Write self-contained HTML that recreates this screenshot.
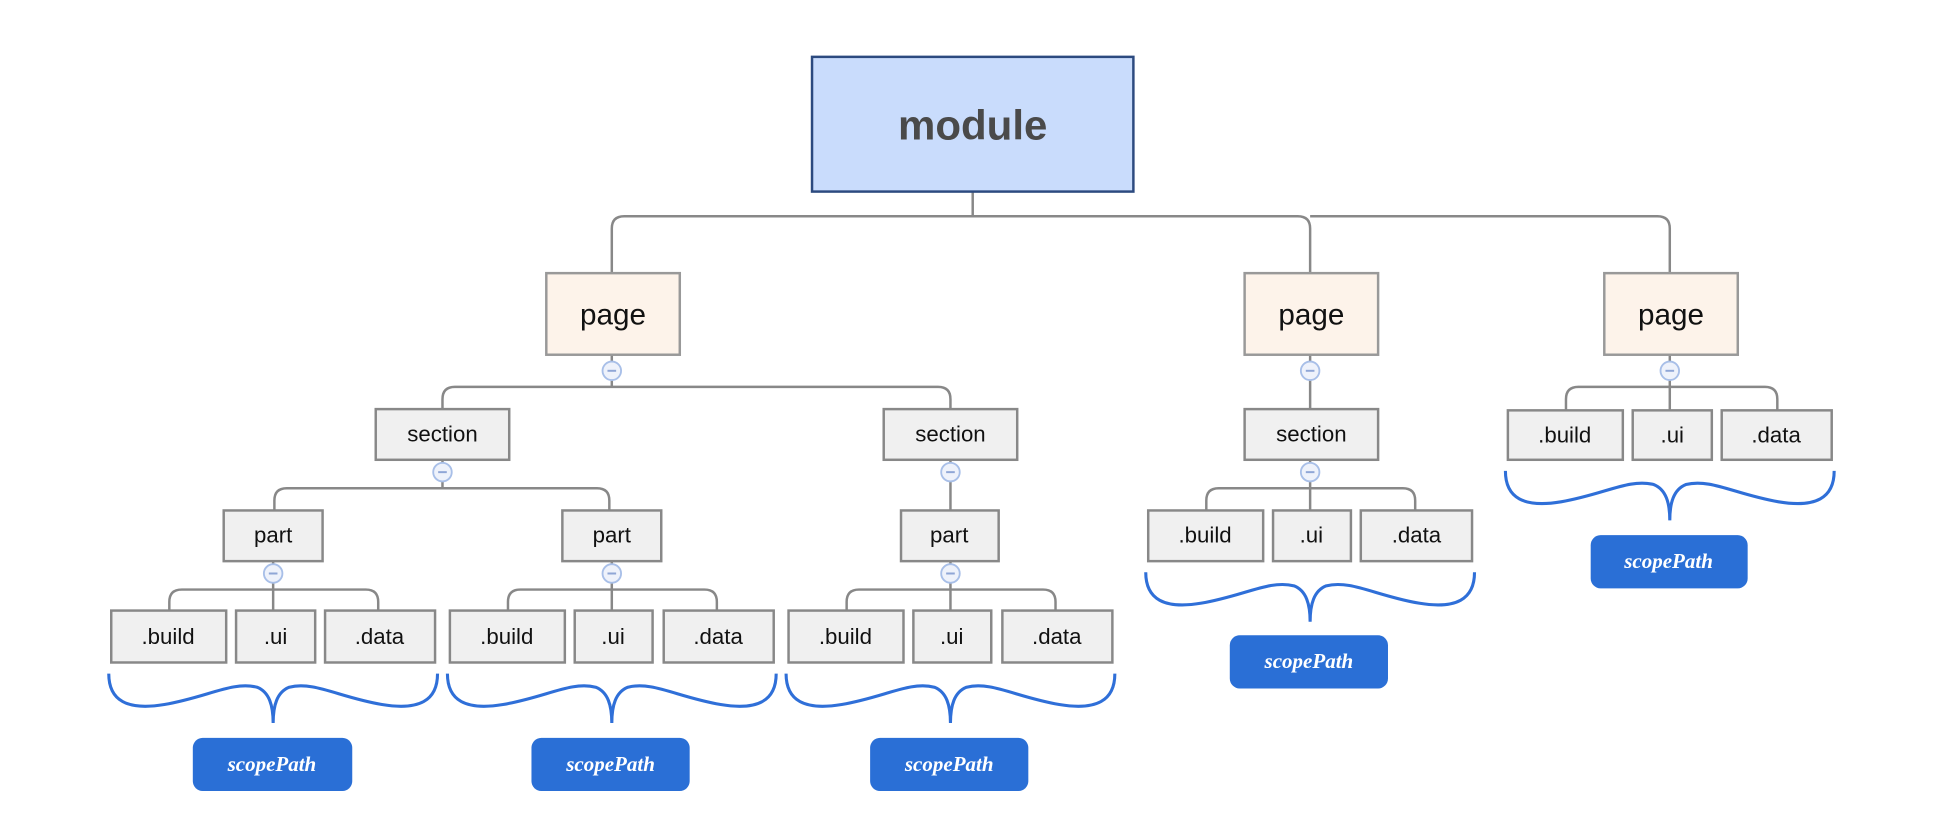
<!DOCTYPE html>
<html><head><meta charset="utf-8"><style>
html,body{margin:0;padding:0;background:#fff;}
svg{display:block}
text{font-family:"Liberation Sans","DejaVu Sans",sans-serif;fill:#111;text-anchor:middle;dominant-baseline:central}
.sp{font-family:"Liberation Serif","DejaVu Serif",serif;font-style:italic;font-weight:bold;fill:#fff;font-size:17px}
</style></head><body>
<svg width="1938" height="838" viewBox="0 0 1568 678" preserveAspectRatio="none" xmlns="http://www.w3.org/2000/svg">
<defs>
<g id="c"><circle r="7.5" fill="#eef2fb" stroke="#a8bfe8" stroke-width="1.5"/><line x1="-3.5" x2="3.5" y1="0" y2="0" stroke="#8fa6d6" stroke-width="1.6"/></g>
<path id="br" d="M0,0 C0,22 15,30 45,25 C80,19 100,6 120,11 C130,15 133,26 133,40 C133,26 136,15 146,11 C166,6 186,19 221,25 C251,30 266,22 266,0" fill="none" stroke="#2f6fd8" stroke-width="2.5"/>
</defs>
<g fill="none" stroke="#888" stroke-width="2">
<path d="M787,155 V175 M787,175 H505 Q495,175 495,185 V221 M787,175 H1050 Q1060,175 1060,185 V221 M1060,175 H1341 Q1351,175 1351,185 V221"/>
<path d="M495,287 V313 H368 Q358,313 358,323 V331 M495,313 H759 Q769,313 769,323 V331"/>
<path d="M1060,287 V331"/>
<path d="M1351,287 V332 M1351,313 H1277 Q1267,313 1267,323 V332 M1351,313 H1428 Q1438,313 1438,323 V332"/>
<path d="M358,372 V395 H232 Q222,395 222,405 V413 M358,395 H483 Q493,395 493,405 V413"/>
<path d="M769,372 V413"/>
<path d="M1060,372 V413 M1060,395 H986 Q976,395 976,405 V413 M1060,395 H1135 Q1145,395 1145,405 V413"/>
<path d="M221,454 V494 M221,477 H147 Q137,477 137,487 V494 M221,477 H296 Q306,477 306,487 V494"/>
<path d="M495,454 V494 M495,477 H421 Q411,477 411,487 V494 M495,477 H570 Q580,477 580,487 V494"/>
<path d="M769,454 V494 M769,477 H695 Q685,477 685,487 V494 M769,477 H844 Q854,477 854,487 V494"/>
</g>
<rect x="657" y="46" width="260" height="109" fill="#c9dcfc" stroke="#2c4a7f" stroke-width="2"/>
<text x="787" y="101" style="font-size:34px;font-weight:bold;fill:#4a4a4a">module</text>
<g fill="#fdf3ea" stroke="#999" stroke-width="2">
<rect x="442" y="221" width="108" height="66"/><rect x="1007" y="221" width="108" height="66"/><rect x="1298" y="221" width="108" height="66"/>
</g>
<g style="font-size:24px"><text x="496" y="255">page</text><text x="1061" y="255">page</text><text x="1352" y="255">page</text></g>
<g fill="#f0f0f0" stroke="#888" stroke-width="2">
<rect x="304" y="331" width="108" height="41"/><rect x="715" y="331" width="108" height="41"/><rect x="1007" y="331" width="108" height="41"/>
<rect x="1220" y="332" width="93" height="40"/><rect x="1321" y="332" width="64" height="40"/><rect x="1393" y="332" width="89" height="40"/>
<rect x="181" y="413" width="80" height="41"/><rect x="455" y="413" width="80" height="41"/><rect x="729" y="413" width="79" height="41"/>
<rect x="929" y="413" width="93" height="41"/><rect x="1030" y="413" width="63" height="41"/><rect x="1101" y="413" width="90" height="41"/>
<rect x="90" y="494" width="93" height="42"/><rect x="191" y="494" width="64" height="42"/><rect x="263" y="494" width="89" height="42"/>
<rect x="364" y="494" width="93" height="42"/><rect x="465" y="494" width="63" height="42"/><rect x="537" y="494" width="89" height="42"/>
<rect x="638" y="494" width="93" height="42"/><rect x="739" y="494" width="63" height="42"/><rect x="811" y="494" width="89" height="42"/>
</g>
<g style="font-size:18px">
<text x="358" y="351">section</text><text x="769" y="351">section</text><text x="1061" y="351">section</text>
<text x="1266" y="352">.build</text><text x="1353" y="352">.ui</text><text x="1437" y="352">.data</text>
<text x="221" y="433">part</text><text x="495" y="433">part</text><text x="768" y="433">part</text>
<text x="975" y="433">.build</text><text x="1061" y="433">.ui</text><text x="1146" y="433">.data</text>
<text x="136" y="515">.build</text><text x="223" y="515">.ui</text><text x="307" y="515">.data</text>
<text x="410" y="515">.build</text><text x="496" y="515">.ui</text><text x="581" y="515">.data</text>
<text x="684" y="515">.build</text><text x="770" y="515">.ui</text><text x="855" y="515">.data</text>
</g>
<use href="#c" x="495" y="300"/><use href="#c" x="1060" y="300"/><use href="#c" x="1351" y="300"/>
<use href="#c" x="358" y="382"/><use href="#c" x="769" y="382"/><use href="#c" x="1060" y="382"/>
<use href="#c" x="221" y="464"/><use href="#c" x="495" y="464"/><use href="#c" x="769" y="464"/>
<use href="#br" x="88" y="545"/><use href="#br" x="362" y="545"/><use href="#br" x="636" y="545"/>
<use href="#br" x="927" y="463"/><use href="#br" x="1218" y="381"/>
<g fill="#2a6fd6">
<rect x="156" y="597" width="129" height="43" rx="8"/><rect x="430" y="597" width="128" height="43" rx="8"/><rect x="704" y="597" width="128" height="43" rx="8"/>
<rect x="995" y="514" width="128" height="43" rx="8"/><rect x="1287" y="433" width="127" height="43" rx="8"/>
</g>
<text class="sp" x="220" y="618">scopePath</text><text class="sp" x="494" y="618">scopePath</text><text class="sp" x="768" y="618">scopePath</text>
<text class="sp" x="1059" y="535">scopePath</text><text class="sp" x="1350" y="454">scopePath</text>
</svg>
</body></html>
